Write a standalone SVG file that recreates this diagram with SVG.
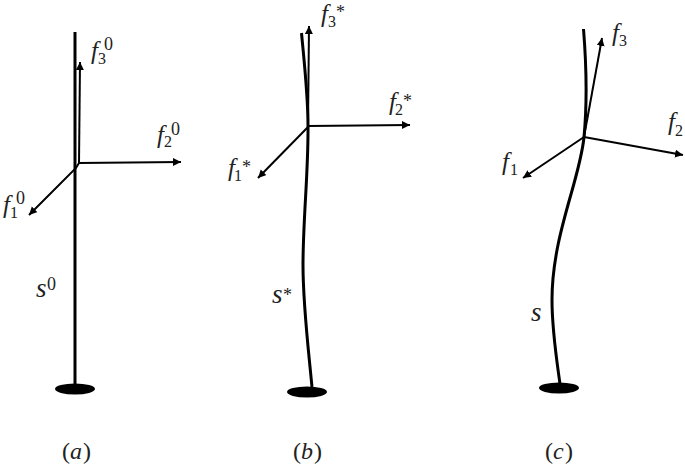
<svg xmlns="http://www.w3.org/2000/svg" width="685" height="464" viewBox="0 0 685 464">
<style>
.rod{fill:none;stroke:#000;stroke-width:3;stroke-linecap:butt}
.ax{fill:none;stroke:#000;stroke-width:2;marker-end:url(#ah)}
.base{fill:#000}
text{font-family:"Liberation Serif",serif;fill:#222}
.m{font-size:25px;font-style:italic}
.s{font-size:16px}
.up{font-size:18px}
.cap{font-size:24px}
.capi{font-size:24px;font-style:italic}
.sv{font-size:27px;font-style:italic}
</style>
<defs>
<marker id="ah" markerUnits="userSpaceOnUse" markerWidth="10" markerHeight="10" refX="8" refY="4" orient="auto"><path d="M0,0L8,4L0,8Z" fill="#000"/></marker>
</defs>
<rect width="685" height="464" fill="#fff"/>
<g id="connectors">
<path class="ax" d="M79,163L80,62"/>
<path class="ax" d="M79,163L181,162"/>
<path class="ax" d="M79,163L76,168L29,215"/>
<path class="ax" d="M308,126L309,26"/>
<path class="ax" d="M308,126L410,125"/>
<path class="ax" d="M308,127L258,178"/>
<path class="ax" d="M584,137L602,38"/>
<path class="ax" d="M584,137L683,155"/>
<path class="ax" d="M584,137L523,178"/>
</g>
<g id="rod-a">
<path class="rod" d="M75,32L75,385"/>
<ellipse class="base" cx="75" cy="389" rx="20" ry="5.5"/>
</g>
<g id="rod-b">
<path class="rod" d="M301.500,33C304,60 308,95 308,126C308.500,170 303,220 303,265C303,305 308,345 312,387"/>
<ellipse class="base" cx="307" cy="392" rx="20" ry="5.500"/>
</g>
<g id="rod-c">
<path class="rod" d="M583.500,29C586,60 588,95 584,137C580,180 552,235 552,300C552,330 556,355 560,384"/>
<ellipse class="base" cx="559" cy="388" rx="20" ry="5.500"/>
</g>
<g id="labels-a">
<text class="m" x="91" y="59">f</text><text class="s" x="98" y="64">3</text><text class="up" x="104" y="50">0</text>
<text class="m" x="157" y="143">f</text><text class="s" x="164" y="147">2</text><text class="up" x="171" y="135">0</text>
<text class="m" x="3" y="213">f</text><text class="s" x="10" y="218">1</text><text class="up" x="16" y="204">0</text>
<text class="sv" x="36" y="297">s</text><text class="up" x="47" y="290">0</text>
<text class="cap" x="62" y="459">(</text><text class="capi" x="70" y="459">a</text><text class="cap" x="83" y="459">)</text>
</g>
<g id="labels-b">
<text class="m" x="321" y="22">f</text><text class="s" x="328" y="27">3</text><text class="up" x="336" y="18">*</text>
<text class="m" x="389" y="110">f</text><text class="s" x="395" y="115">2</text><text class="up" x="403" y="107">*</text>
<text class="m" x="228" y="176">f</text><text class="s" x="234" y="181">1</text><text class="up" x="242" y="173">*</text>
<text class="sv" x="272" y="303">s</text><text class="up" x="283" y="301">*</text>
<text class="cap" x="293" y="459">(</text><text class="capi" x="301" y="459">b</text><text class="cap" x="314" y="459">)</text>
</g>
<g id="labels-c">
<text class="m" x="612" y="41">f</text><text class="s" x="619" y="46">3</text>
<text class="m" x="668" y="130">f</text><text class="s" x="675" y="136">2</text>
<text class="m" x="502" y="170">f</text><text class="s" x="510" y="175">1</text>
<text class="sv" x="531" y="321">s</text>
<text class="cap" x="545" y="459">(</text><text class="capi" x="553" y="459">c</text><text class="cap" x="565" y="459">)</text>
</g>
</svg>
